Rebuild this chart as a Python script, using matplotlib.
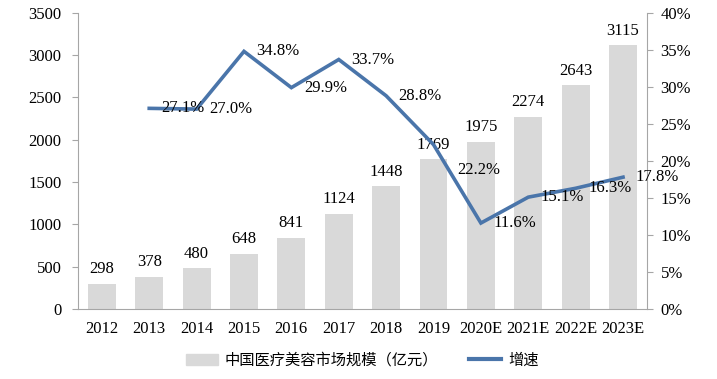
import numpy as np
import matplotlib
matplotlib.use("Agg")
import matplotlib.pyplot as plt
from matplotlib.patches import Patch
from matplotlib.lines import Line2D

plt.rcParams['font.family'] = ['Liberation Serif', 'Noto Sans CJK SC']

years = ['2012', '2013', '2014', '2015', '2016', '2017', '2018', '2019',
         '2020E', '2021E', '2022E', '2023E']
market = [298, 378, 480, 648, 841, 1124, 1448, 1769, 1975, 2274, 2643, 3115]
growth = [None, 27.1, 27.0, 34.8, 29.9, 33.7, 28.8, 22.2, 11.6, 15.1, 16.3, 17.8]

bar_color = '#d9d9d9'
line_color = '#4a75aa'
axis_color = '#a6a6a6'
fs = 12

fig = plt.figure(figsize=(7.17, 3.79), dpi=100)
ax = fig.add_axes([0.109, 0.185, 0.793, 0.781])
x = np.arange(len(years))

ax.bar(x, market, width=0.59, color=bar_color, zorder=2)
for xi, v in zip(x, market):
    ax.text(xi, v + 80, str(v), ha='center', va='bottom', fontsize=fs)

ax.set_xlim(-0.5, len(years) - 0.5)
ax.set_ylim(0, 3500)
ax.set_yticks(range(0, 3501, 500))
ax.set_xticks(x)
ax.set_xticklabels(years, fontsize=fs)
ax.tick_params(axis='x', length=0, pad=9)
ax.tick_params(axis='y', labelsize=fs, length=4, color=axis_color, pad=8)
for s in ['top', 'right']:
    ax.spines[s].set_visible(False)
for s in ['left', 'bottom']:
    ax.spines[s].set_color(axis_color)

ax2 = ax.twinx()
ax2.set_ylim(0, 40)
ax2.set_yticks(range(0, 41, 5))
ax2.set_yticklabels([f'{v}%' for v in range(0, 41, 5)])
ax2.tick_params(axis='y', labelsize=fs, length=4, color=axis_color, pad=6)
for s in ['top', 'left', 'bottom']:
    ax2.spines[s].set_visible(False)
ax2.spines['right'].set_color(axis_color)

gx = [xi for xi, g in zip(x, growth) if g is not None]
gy = [g for g in growth if g is not None]
ax2.plot(gx, gy, color=line_color, lw=2.6, zorder=3, solid_joinstyle='miter')
for xi, g in zip(gx, gy):
    off = (17, -18) if g == 22.2 else (9, 0)
    ax2.annotate(f'{g:.1f}%', (xi, g), xytext=off, textcoords='offset points',
                 ha='left', va='center', fontsize=fs, zorder=4)

handles = [Patch(color=bar_color), Line2D([0], [0], color=line_color, lw=3)]
labels = ['中国医疗美容市场规模（亿元）', '增速']
fig.legend(handles, labels, loc='center', bbox_to_anchor=(0.505, 0.05), ncol=2,
           frameon=False, handlelength=2.1, handletextpad=0.45, columnspacing=2.0,
           prop={'family': ['Noto Sans CJK SC'], 'size': 11})

fig.savefig('out.png', dpi=100)
